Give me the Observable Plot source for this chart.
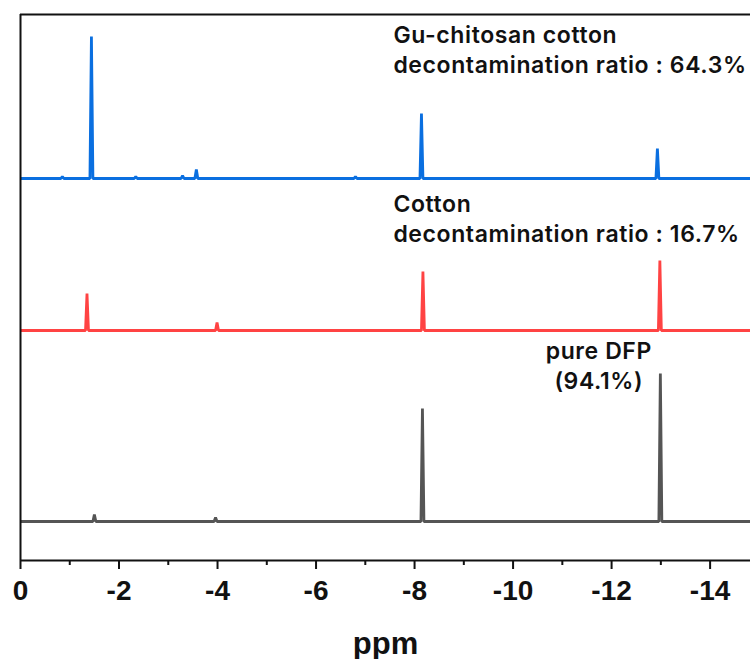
<!DOCTYPE html>
<html>
<head>
<meta charset="utf-8">
<script src="https://cdn.jsdelivr.net/npm/d3@7"></script>
<script src="https://cdn.jsdelivr.net/npm/@observablehq/plot@0.6"></script>
<style>
  html, body { margin: 0; padding: 0; background: #fff; }
  .spec-label text { letter-spacing: 0.6px; }
</style>
</head>
<body>
<div id="chart"></div>
<script>
// ---- data (ppm shift, peak intensity above each spectrum's baseline) ----
const seriesNames = ["Gu-chitosan cotton", "Cotton", "pure DFP"];
const seriesColors = ["#0a6fe0", "#ff4343", "#555555"];
const seriesOffsets = [382, 230, 39];

const guShifts  = [-0.85, -1.44, -2.34, -3.29, -3.57, -6.80, -8.14, -12.93];
const guHeights = [2, 142, 2, 3, 9, 2, 65, 30];

const cottonShifts  = [-1.35, -3.99, -8.17, -12.98];
const cottonHeights = [37, 8, 59, 70];

const dfpShifts  = [-1.50, -3.96, -8.16, -12.99];
const dfpHeights = [7, 4, 113, 148];

const majorTicks = [0, -2, -4, -6, -8, -10, -12, -14];
const minorTicks = [-1, -3, -5, -7, -9, -11, -13];

const labelTexts = [
  "Gu-chitosan cotton\ndecontamination ratio : 64.3%",
  "Cotton\ndecontamination ratio : 16.7%",
  "pure DFP\n(94.1%)"
];
const labelPpm = [-7.57, -7.57, -11.74];
const labelIntensity = [488, 319, 172];
const labelAnchors = ["start", "start", "middle"];

const xDomain = [0, -14.82];
const yDomain = [0, 546];

// ---- build spectra point lists from the peak tables ----
const halfWidth = 0.03;
function spectrum(shifts, heights, offset) {
  const pts = [{x: xDomain[0], y: offset}];
  const order = d3.range(shifts.length).sort((a, b) => shifts[b] - shifts[a]);
  for (const i of order) {
    pts.push({x: shifts[i] + halfWidth, y: offset});
    pts.push({x: shifts[i], y: offset + heights[i]});
    pts.push({x: shifts[i] - halfWidth, y: offset});
  }
  pts.push({x: xDomain[1], y: offset});
  return pts;
}
const spectra = [
  spectrum(guShifts, guHeights, seriesOffsets[0]),
  spectrum(cottonShifts, cottonHeights, seriesOffsets[1]),
  spectrum(dfpShifts, dfpHeights, seriesOffsets[2])
];

const labels = labelTexts.map((t, i) => ({text: t, x: labelPpm[i], y: labelIntensity[i], anchor: labelAnchors[i]}));

const labelFont = "Inter, 'Noto Sans', sans-serif";
const axisFont = "'Liberation Sans', Arial, sans-serif";

const chart = Plot.plot({
  width: 750,
  height: 659,
  marginLeft: 20,
  marginRight: 0,
  marginTop: 14,
  marginBottom: 99,
  x: {domain: xDomain, axis: null},
  y: {domain: yDomain, axis: null},
  style: {background: "#fff", overflow: "visible"},
  marks: [
    ...spectra.map((pts, i) => Plot.line(pts, {x: "x", y: "y", stroke: seriesColors[i], strokeWidth: 2.8, strokeLinejoin: "miter", clip: true})),
    Plot.ruleX([0], {stroke: "#111", strokeWidth: 2}),
    Plot.ruleY([yDomain[1]], {stroke: "#111", strokeWidth: 2}),
    Plot.ruleY([0], {stroke: "#111", strokeWidth: 2}),
    Plot.axisX({ticks: minorTicks, tickSize: 5, tickFormat: () => "", strokeWidth: 2, stroke: "#111", label: null}),
    Plot.axisX({ticks: majorTicks, tickSize: 9, tickPadding: 11, tickFormat: d => String(d),
      strokeWidth: 2, stroke: "#111", fill: "#111", fontSize: 28, fontWeight: "bold", fontFamily: axisFont, label: null}),
    Plot.text(["ppm"], {frameAnchor: "bottom", dy: 93, fontSize: 31, fontWeight: "bold", fontFamily: axisFont, fill: "#111"}),
    ...labels.map(l => Plot.text([l], {x: "x", y: "y", text: "text", textAnchor: l.anchor, lineAnchor: "bottom",
      lineHeight: 1.27, fontSize: 23, fontWeight: 600, fontFamily: labelFont, fill: "#111", className: "spec-label"}))
  ]
});
document.getElementById("chart").appendChild(chart);
</script>
</body>
</html>
